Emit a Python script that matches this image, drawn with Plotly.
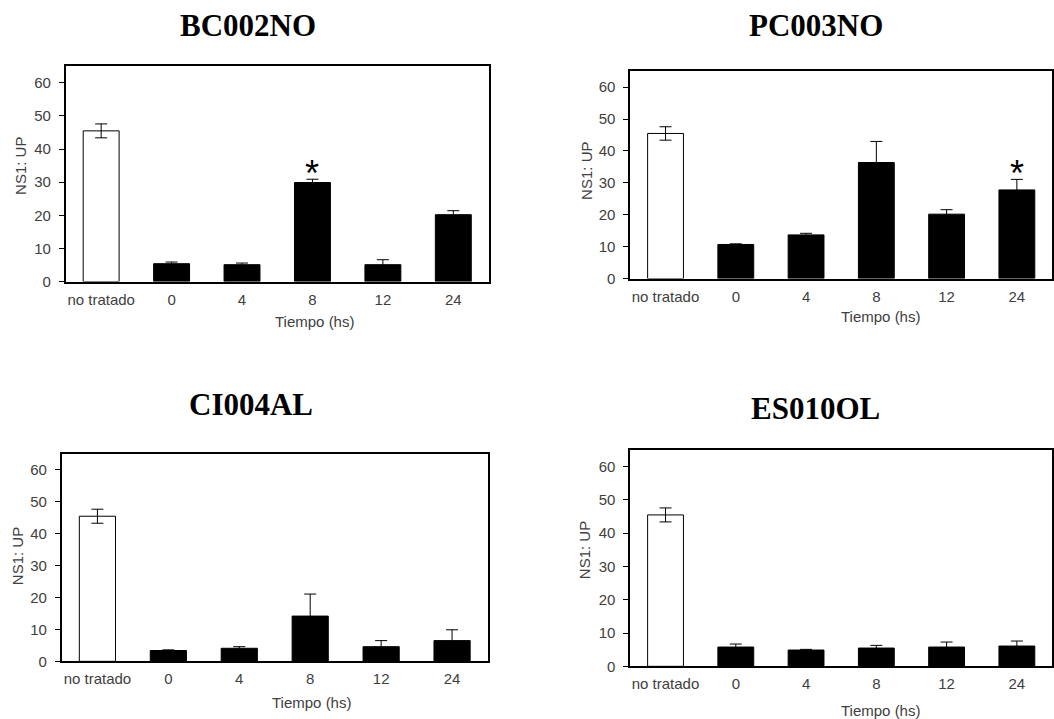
import plotly.graph_objects as go

# ---------------- data ----------------
categories = ["no tratado", "0", "4", "8", "12", "24"]
panel_titles = ["BC002NO", "PC003NO", "CI004AL", "ES010OL"]

bc002no_values = [45.5, 5.4, 5.1, 29.9, 5.1, 20.2]
bc002no_errors = [2.1, 0.5, 0.5, 1.0, 1.5, 1.2]

pc003no_values = [45.5, 10.7, 13.7, 36.4, 20.2, 27.8]
pc003no_errors = [2.1, 0.2, 0.5, 6.6, 1.4, 3.3]

ci004al_values = [45.5, 3.4, 4.1, 14.2, 4.6, 6.5]
ci004al_errors = [2.2, 0.2, 0.5, 6.9, 1.9, 3.4]

es010ol_values = [45.5, 5.8, 4.9, 5.5, 5.8, 6.1]
es010ol_errors = [2.1, 0.9, 0.2, 0.8, 1.5, 1.5]

# significance marks: panel index -> category
significant = {0: "8", 1: "24"}

y_tick_values = [0, 10, 20, 30, 40, 50, 60]
y_range = [0, 65]
x_axis_title = "Tiempo (hs)"
y_axis_title = "NS1: UP"

values = [bc002no_values, pc003no_values, ci004al_values, es010ol_values]
errors = [bc002no_errors, pc003no_errors, ci004al_errors, es010ol_errors]

# ---------------- layout geometry (page pixels) ----------------
W, H = 1054, 719
boxes = [(66, 489, 65, 281), (631, 1053, 70, 278), (62, 488, 454, 662), (631, 1053, 450, 667)]
title_pos = [(248.5, 24), (816.7, 24), (250.8, 404.5), (815.8, 408)]
xtitle_pos = [(315, 321.5), (881.7, 316.5), (311.7, 703), (881.7, 711)]
ytitle_pos = [(21, 165), (587.5, 170), (17.5, 556), (585, 550)]

def px(x):
    return x / W

def py(y):
    y = y + 1.5 + 0.008 * y  # small vertical calibration
    return 1 - y / H

fig = go.Figure()
annotations = []
tick_font = dict(family="Liberation Sans, Arial, sans-serif", size=15, color="#404040")

for i in range(4):
    ax = "" if i == 0 else str(i + 1)
    colors = ["white"] + ["black"] * (len(categories) - 1)
    fig.add_trace(go.Bar(
        x=categories, y=values[i],
        xaxis="x" + ax, yaxis="y" + ax,
        width=0.51,
        marker=dict(color=colors, line=dict(color="black", width=1)),
        error_y=dict(type="data", array=errors[i], color="black", thickness=1, width=6),
        showlegend=False,
        hoverinfo="x+y",
    ))
    l, r, t, b = boxes[i]
    fig.update_layout(**{
        "xaxis" + ax: dict(
            domain=[px(l), px(r)], anchor="y" + ax, type="category",
            range=[-0.5, len(categories) - 0.5],
            showline=True, linecolor="black", linewidth=2, mirror=True,
            ticks="", showgrid=False, zeroline=False,
            tickfont=tick_font, ticklabelstandoff=3, fixedrange=True,
        ),
        "yaxis" + ax: dict(
            domain=[py(b), py(t)], anchor="x" + ax,
            range=y_range, tickvals=y_tick_values,
            showline=True, linecolor="black", linewidth=2, mirror=True,
            ticks="outside", ticklen=5, tickwidth=1, tickcolor="black",
            showgrid=False, zeroline=False,
            tickfont=tick_font, ticklabelstandoff=5, fixedrange=True,
        ),
    })
    # panel title
    annotations.append(dict(
        x=px(title_pos[i][0]), y=py(title_pos[i][1]), xref="paper", yref="paper",
        text="<b>" + panel_titles[i] + "</b>", showarrow=False,
        xanchor="center", yanchor="middle",
        font=dict(family="Liberation Serif, Times New Roman, serif", size=31, color="black"),
    ))
    annotations.append(dict(
        x=px(xtitle_pos[i][0]), y=py(xtitle_pos[i][1]), xref="paper", yref="paper",
        text=x_axis_title, showarrow=False, xanchor="center", yanchor="middle",
        font=tick_font,
    ))
    annotations.append(dict(
        x=px(ytitle_pos[i][0]), y=py(ytitle_pos[i][1]), xref="paper", yref="paper",
        text=y_axis_title, showarrow=False, xanchor="center", yanchor="middle",
        textangle=-90, font=tick_font,
    ))
    if i in significant:
        k = categories.index(significant[i])
        annotations.append(dict(
            x=k, y=values[i][k] + errors[i][k], xref="x" + ax, yref="y" + ax,
            text="*", showarrow=False, xanchor="center", yanchor="bottom",
            yshift=-17,
            font=dict(family="Liberation Sans, Arial, sans-serif", size=36, color="black"),
        ))

fig.update_layout(
    width=W, height=H,
    margin=dict(l=0, r=0, t=0, b=0),
    paper_bgcolor="white", plot_bgcolor="white",
    annotations=annotations,
    bargap=0.49,
)

# remove the default page margin so the figure fills the window exactly
fig.write_html(
    "out.html",
    config={"displayModeBar": False},
    post_script="document.body.style.margin='0px';document.body.style.overflow='hidden';",
)
